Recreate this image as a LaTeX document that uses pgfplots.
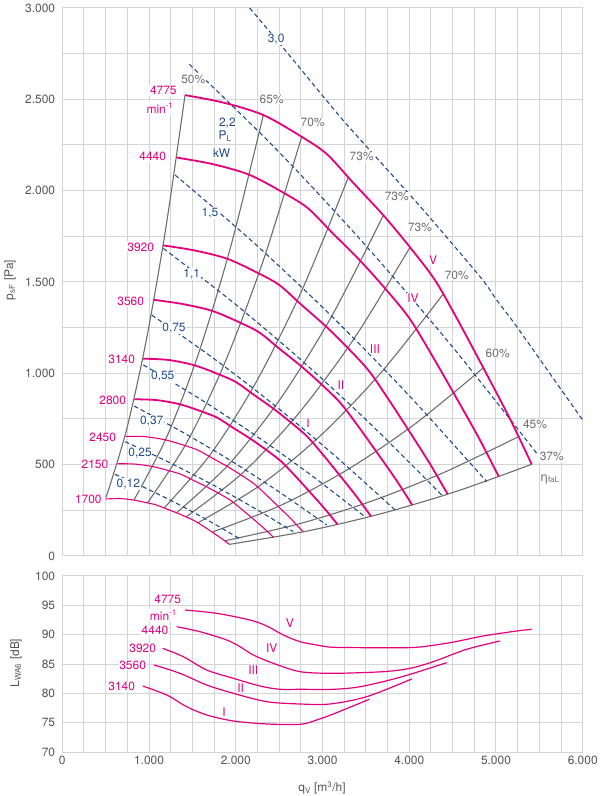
\documentclass[border=0pt]{standalone}
\usepackage{fontspec}
\setmainfont{TeX Gyre Heros}
\newfontfamily\grk{DejaVu Sans}
\usepackage{pgfplots}
\pgfplotsset{compat=1.18}
\definecolor{pk}{HTML}{E5007D}
\definecolor{bl}{HTML}{1F4E8C}
\definecolor{gl}{HTML}{6E6E6E}
\definecolor{gr}{HTML}{D4D4D4}
\definecolor{tk}{HTML}{555555}
\begin{document}
\fontsize{12}{14}\selectfont
\begin{tikzpicture}[x=1bp,y=1bp,
  lb/.style={fill=white, inner sep=0.8pt, font=\fontsize{12}{14}\selectfont},
  pl/.style={lb, text=pk},
  bll/.style={lb, text=bl},
  gll/.style={lb, text=gl},
  fan/.style={pk, line width=1.8bp, smooth},
  fant/.style={pk, line width=1.1bp, smooth},
  eff/.style={gl, line width=1.1bp, smooth},
  pw/.style={bl, line width=1.1bp, dash pattern=on 4.5bp off 3bp, smooth},
  snd/.style={pk, line width=1.2bp, smooth}]
\useasboundingbox (0,0) rectangle (600,796);
\pgfplotsset{common/.style={
  scale only axis, anchor=south west, width=520.4bp,
  xmin=0, xmax=6000,
  grid=both, grid style={gr, line width=1bp}, minor grid style={gr, line width=1bp},
  axis line style={gr, line width=1bp},
  major tick length=0pt, minor tick length=0pt,
  tick label style={tk, font=\fontsize{12}{14}\selectfont},
  /pgf/number format/1000 sep={.},
  /pgf/number format/assume math mode=true,
  yticklabel style={xshift=-3bp},
}}
% ---------------- top: pressure ----------------
\begin{axis}[common, at={(62.3bp,240bp)}, height=548bp,
  ymin=0, ymax=3000,
  xtick={0,250,...,6000}, xticklabels={},
  ytick={0,500,...,3000}, minor ytick={250,750,...,2750}]
% efficiency lines (system parabolas)
\addplot[eff] coordinates {(503.8,319.8) (735.8,682.2) (962.2,1166.6) (1188.6,1780.2) (1415,2523)};
\addplot[eff] coordinates {(825.3,306.0) (1205.4,652.7) (1576.2,1116.2) (1947.1,1703.3) (2318,2414)};
\addplot[eff] coordinates {(982.6,290.9) (1435.2,620.6) (1876.8,1061.2) (2318.4,1619.4) (2760,2295)};
\addplot[eff] coordinates {(1174.2,262.8) (1715.0,560.5) (2242.6,958.6) (2770.3,1462.7) (3298,2073)};
\addplot[eff] coordinates {(1318.0,236.4) (1925.0,504.3) (2517.4,862.4) (3109.7,1315.9) (3702,1865)};
\addplot[eff] coordinates {(1427.3,214.2) (2084.7,457.0) (2726.1,781.5) (3367.6,1192.5) (4009,1690)};
\addplot[eff] coordinates {(1562.9,181.6) (2282.8,387.4) (2985.2,662.5) (3687.6,1011.0) (4390,1433)};
\addplot[eff] coordinates {(1728.1,130.6) (2524.1,278.5) (3300.7,476.3) (4077.4,726.8) (4854,1030)};
\addplot[eff] coordinates {(1871.9,82.8) (2734.2,176.6) (3575.4,301.9) (4416.7,460.8) (5258,653)};
\addplot[eff] coordinates {(1926.8,63.6) (2814.2,135.7) (3680.2,232.1) (4546.1,354.2) (5412,502)};
% power lines
\addplot[pw] coordinates {(608,447) (973,369) (1338,283) (1703,189) (2068,88)};
\addplot[pw] coordinates {(723,626) (1208,518) (1693,400) (2178,272) (2663,133)};
\addplot[pw] coordinates {(827,821) (1382,679) (1938,523) (2493,353) (3048,170)};
\addplot[pw] coordinates {(934,1046) (1573,864) (2212,665) (2851,449) (3490,215)};
\addplot[pw] coordinates {(1031,1319) (1732,1086) (2434,830) (3135,552) (3836,252)};
\addplot[pw] coordinates {(1165,1684) (1967,1389) (2770,1066) (3572,714) (4374,334)};
\addplot[pw] coordinates {(1299,2086) (2198,1719) (3096,1317) (3995,880) (4893,407)};
\addplot[pw] coordinates {(1464,2692) (2466,2227) (3467,1716) (4469,1162) (5470,562)};
\addplot[pw] coordinates {(2160,3000) (2472,2825) (2741,2670) (3202,2405) (3510,2240) (4160,1895) (4816,1529) (5009,1401) (5239,1256) (5738,920) (6000,744)};
% fan curves
\addplot[fan] coordinates {(1415,2523) (1857,2482) (2318,2414) (2760,2295) (3050,2200) (3350,2045) (3702,1865) (4009,1690) (4297,1510) (4550,1300) (4854,1030) (5162,750) (5412,502)};
\addplot[fan] coordinates {(1315.7,2181.4) (1726.7,2146.0) (2155.4,2087.2) (2566.4,1984.3) (2836.0,1902.1) (3115.0,1768.1) (3442.3,1612.5) (3727.7,1461.2) (3995.5,1305.6) (4230.8,1124.0) (4513.4,890.5) (4799.8,648.5) (5032.3,434.0)};
\addplot[fan] coordinates {(1161.6,1700.4) (1524.5,1672.7) (1903.0,1626.9) (2265.8,1546.7) (2503.9,1482.7) (2750.1,1378.2) (3039.1,1256.9) (3291.1,1138.9) (3527.6,1017.6) (3735.3,876.1) (3984.8,694.2) (4237.7,505.5) (4442.9,338.3)};
\addplot[fan] coordinates {(1054.9,1402.4) (1384.5,1379.6) (1728.2,1341.8) (2057.7,1275.7) (2273.9,1222.8) (2497.6,1136.7) (2760.0,1036.6) (2988.9,939.4) (3203.6,839.3) (3392.3,722.6) (3618.9,572.5) (3848.5,416.9) (4034.9,279.0)};
\addplot[fan] coordinates {(930.5,1080.0) (1221.1,1073.3) (1524.3,1043.9) (1814.9,992.4) (2005.6,951.3) (2202.9,884.3) (2434.4,806.5) (2636.3,730.8) (2825.7,653.0) (2992.0,562.1) (3191.9,445.4) (3394.5,324.3) (3558.9,217.1)};
\addplot[fan] coordinates {(829.7,858.0) (1088.9,853.4) (1359.3,830.1) (1618.4,789.1) (1788.5,756.5) (1964.4,703.2) (2170.8,641.3) (2350.8,581.1) (2519.7,519.2) (2668.1,447.0) (2846.3,354.2) (3026.9,257.9) (3173.5,172.6)};
\addplot[fant] coordinates {(726.0,655.0) (952.8,653.4) (1189.3,635.5) (1416.1,604.2) (1564.9,579.2) (1718.9,538.4) (1899.5,491.0) (2056.5,444.9) (2204.7,397.5) (2334.6,342.2) (2490.5,271.2) (2648.6,197.4) (2776.8,132.2)};
\addplot[fant] coordinates {(637.1,505.0) (836.1,503.2) (1043.7,489.4) (1242.7,465.3) (1373.3,446.0) (1508.4,414.6) (1666.9,378.1) (1805.1,342.6) (1934.8,306.1) (2048.7,263.5) (2185.6,208.8) (2324.2,152.0) (2436.8,101.8)};
\addplot[fant] coordinates {(503.8,312.0) (661.1,314.6) (825.3,306.0) (982.6,290.9) (1085.9,278.9) (1192.7,259.2) (1318.0,236.4) (1427.3,214.2) (1529.8,191.4) (1619.9,164.8) (1728.1,130.6) (1837.8,95.1) (1926.8,63.6)};
% labels: speeds
\node[pl] at (axis cs:1165,2547) {4775};
\node[pl] at (axis cs:1126,2452) {min\textsuperscript{-1}};
\node[pl] at (axis cs:1042,2186) {4440};
\node[pl] at (axis cs:904,1690) {3920};
\node[pl] at (axis cs:789,1392) {3560};
\node[pl] at (axis cs:685,1074) {3140};
\node[pl] at (axis cs:581,850) {2800};
\node[pl] at (axis cs:466,650) {2450};
\node[pl] at (axis cs:377,502) {2150};
\node[pl] at (axis cs:300,312) {1700};
\node[pl] at (axis cs:4275,1620) {V};
\node[pl] at (axis cs:4044,1412) {IV};
\node[pl] at (axis cs:3605,1133) {III};
\node[pl] at (axis cs:3213,936) {II};
\node[pl] at (axis cs:2833,728) {I};
% labels: power
\node[bll] at (axis cs:2465,2828) {3,0};
\node[bll] at (axis cs:1903,2368) {2,2};
\node[bll] at (axis cs:1876,2300) {P\textsubscript{L}};
\node[bll] at (axis cs:1838,2204) {kW};
\node[bll] at (axis cs:1703,1876) {1,5};
\node[bll] at (axis cs:1492,1544) {1,1};
\node[bll] at (axis cs:1288,1250) {0,75};
\node[bll] at (axis cs:1158,982) {0,55};
\node[bll] at (axis cs:1031,739) {0,37};
\node[bll] at (axis cs:896,562) {0,25};
\node[bll] at (axis cs:761,394) {0,12};
% labels: efficiency
\node[gll] at (axis cs:1510,2611) {50\%};
\node[gll] at (axis cs:2414,2500) {65\%};
\node[gll] at (axis cs:2887,2374) {70\%};
\node[gll] at (axis cs:3452,2186) {73\%};
\node[gll] at (axis cs:3856,1967) {73\%};
\node[gll] at (axis cs:4124,1797) {73\%};
\node[gll] at (axis cs:4548,1538) {70\%};
\node[gll] at (axis cs:5020,1110) {60\%};
\node[gll] at (axis cs:5450,723) {45\%};
\node[gll] at (axis cs:5643,544) {37\%};
\node[gll, fill=none] at (axis cs:5623,421) {{\grk η}\textsubscript{faL}};
\end{axis}
% ---------------- bottom: sound ----------------
\begin{axis}[common, at={(62.3bp,43.7bp)}, height=176.3bp,
  ymin=70, ymax=100,
  xtick={0,1000,...,6000}, minor xtick={0,250,...,6000},
  ytick={70,75,...,100}]
\addplot[snd] coordinates {(1415,94.21) (1780,93.65) (2164,92.51) (2357,91.49) (2548,89.96) (2741,88.82) (2933,88.26) (3125,87.87) (3702,87.80) (4086,87.87) (4470,88.65) (4854,89.79) (5239,90.64) (5412,90.93)};
\addplot[snd] coordinates {(1319,91.37) (1588,90.52) (1896,89.11) (2049,87.97) (2202,86.56) (2433,85.14) (2741,83.72) (3125,83.44) (3702,83.72) (4009,84.29) (4278,85.42) (4663,87.53) (5047,88.94)};
\addplot[snd] coordinates {(1157,87.70) (1395,86.27) (1665,84.00) (1972,82.59) (2280,81.28) (2510,80.72) (2741,80.72) (3125,80.72) (3433,81.16) (3894,82.76) (4432,85.25)};
\addplot[snd] coordinates {(1057,84.86) (1357,83.44) (1665,81.45) (1972,80.04) (2357,78.61) (2741,78.22) (3087,78.22) (3510,79.47) (4028,82.47)};
\addplot[snd] coordinates {(927,81.28) (1204,79.75) (1434,77.76) (1665,76.35) (1972,75.33) (2357,74.82) (2741,74.76) (2933,75.50) (3125,76.52) (3540,79.02)};
\node[pl] at (axis cs:1215,96.03) {4775};
\node[pl] at (axis cs:1165,93.36) {min\textsuperscript{-1}};
\node[pl] at (axis cs:1069,90.81) {4440};
\node[pl] at (axis cs:927,87.70) {3920};
\node[pl] at (axis cs:811,84.86) {3560};
\node[pl] at (axis cs:685,81.16) {3140};
\node[pl] at (axis cs:2625,91.95) {V};
\node[pl] at (axis cs:2414,87.80) {IV};
\node[pl] at (axis cs:2202,84.00) {III};
\node[pl] at (axis cs:2057,80.89) {II};
\node[pl] at (axis cs:1864,76.91) {I};
\end{axis}
% axis titles
\node[rotate=90, text=tk] at (10,516) {p\textsubscript{sF} [Pa]};
\node[rotate=90, text=tk] at (16,133) {L\textsubscript{WA6} [dB]};
\node[text=tk] at (322,8) {q\textsubscript{V} [m\textsuperscript{3}/h]};
\end{tikzpicture}
\end{document}
